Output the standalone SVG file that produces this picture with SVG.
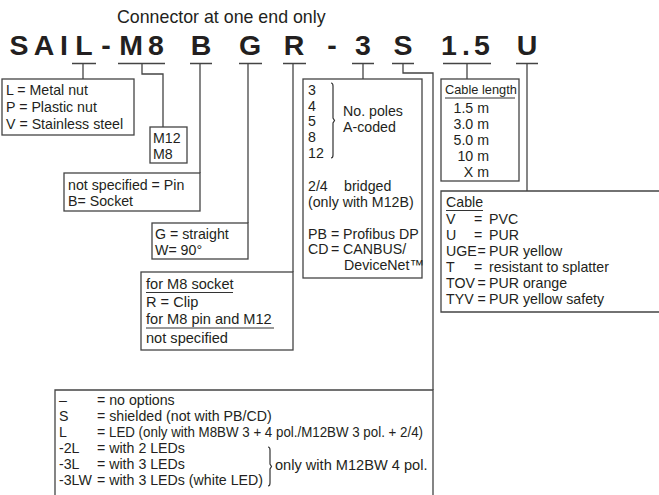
<svg xmlns="http://www.w3.org/2000/svg" width="659" height="495" viewBox="0 0 659 495">
<style>
text{font-family:"Liberation Sans",Arial,sans-serif;font-size:14.2px;fill:#231f20}
.code{font-size:28.5px;font-weight:bold;text-anchor:middle}
.title{font-size:17.8px}
.box{fill:none;stroke:#444;stroke-width:1.3}
.ln{fill:none;stroke:#444;stroke-width:1.3}
.ul{stroke:#333;stroke-width:1}
.end{text-anchor:end}
.br{fill:none;stroke:#333;stroke-width:1.2}
</style>
<rect width="659" height="495" fill="#fff"/>
<g id="title"><text class="title" x="117" y="23">Connector at one end only</text></g>
<g id="code">
<text class="code" x="19" y="55">S</text>
<text class="code" x="44" y="55">A</text>
<text class="code" x="64" y="55">I</text>
<text class="code" x="84" y="55">L</text>
<text class="code" x="106" y="55">-</text>
<text class="code" x="131" y="55">M</text>
<text class="code" x="156" y="55">8</text>
<text class="code" x="201" y="55">B</text>
<text class="code" x="250" y="55">G</text>
<text class="code" x="294" y="55">R</text>
<text class="code" x="332" y="55">-</text>
<text class="code" x="363" y="55">3</text>
<text class="code" x="403" y="55">S</text>
<text class="code" x="449" y="55">1</text>
<text class="code" x="466" y="55">.</text>
<text class="code" x="482" y="55">5</text>
<text class="code" x="527" y="55">U</text>
</g>
<g id="connectors" class="ln">
<path d="M72,63.5H96M118,63.5H165M190,63.5H212M239,63.5H262M283,63.5H306M352,63.5H374M392,63.5H414M443,63.5H491M516,63.5H538"/>
<path d="M83,63.5V79"/>
<path d="M142,63.5V74H163V127"/>
<path d="M200,63.5V173"/>
<path d="M248,63.5V223"/>
<path d="M293,63.5V272"/>
<path d="M363,63.5V79"/>
<path d="M403,63.5V73H433V390"/>
<path d="M467,63.5V79"/>
<path d="M527,63.5V191"/>
</g>
<g id="nut">
<rect class="box" x="2" y="79" width="132" height="56"/>
<text x="6" y="95">L = Metal nut</text>
<text x="6" y="112">P = Plastic nut</text>
<text x="6" y="129">V = Stainless steel</text>
</g>
<g id="size">
<rect class="box" x="150" y="127" width="37" height="36"/>
<text x="153" y="143">M12</text>
<text x="153" y="159">M8</text>
</g>
<g id="pin">
<rect class="box" x="64" y="173" width="136" height="38"/>
<text x="68" y="190">not specified = Pin</text>
<text x="68" y="206">B= Socket</text>
</g>
<g id="angle">
<rect class="box" x="152" y="223" width="96" height="36"/>
<text x="155" y="239">G = straight</text>
<text x="155" y="255">W= 90°</text>
</g>
<g id="clip">
<rect class="box" x="141" y="272" width="152" height="78"/>
<text x="146" y="289" style="font-size:14.6px">for M8 socket</text>
<line class="ul" x1="146" y1="292.5" x2="233" y2="292.5"/>
<text x="146" y="307" style="font-size:14.6px">R = Clip</text>
<text x="146" y="324" style="font-size:14.6px">for M8 pin and M12</text>
<line class="ul" x1="146" y1="328" x2="274" y2="328"/>
<text x="146" y="343" style="font-size:14.6px">not specified</text>
</g>
<g id="poles">
<rect class="box" x="303" y="79" width="119" height="199"/>
<text x="308" y="95">3</text>
<text x="308" y="111">4</text>
<text x="308" y="126">5</text>
<text x="308" y="142">8</text>
<text x="308" y="158">12</text>
<path class="br" d="M331,83q2,0 2,3v32l1.5,2.5l-1.5,2.5v32q0,3 -2,3"/>
<text x="343" y="116">No. poles</text>
<text x="343" y="132">A-coded</text>
<text x="308" y="191">2/4</text>
<text x="344" y="191">bridged</text>
<text x="308" y="207">(only with M12B)</text>
<text x="308" y="239">PB</text><text x="331" y="239">=</text><text x="343" y="239">Profibus DP</text>
<text x="308" y="254">CD</text><text x="331" y="254">=</text><text x="343" y="254">CANBUS/</text>
<text x="344" y="270">DeviceNet™</text>
</g>
<g id="length">
<rect class="box" x="441" y="79" width="78" height="102"/>
<text x="445" y="94" style="font-size:12.8px">Cable length</text>
<line class="ul" x1="445" y1="98" x2="515" y2="98"/>
<text class="end" x="489" y="113">1.5 m</text>
<text class="end" x="489" y="129">3.0 m</text>
<text class="end" x="489" y="145">5.0 m</text>
<text class="end" x="489" y="161">10 m</text>
<text class="end" x="489" y="177">X m</text>
</g>
<g id="cable">
<path class="box" d="M660,191H441V312H660"/>
<text x="446" y="207">Cable</text>
<line class="ul" x1="446" y1="210.5" x2="483" y2="210.5"/>
<text x="446" y="224">V</text><text x="474" y="224">=</text><text x="489" y="224">PVC</text>
<text x="446" y="240">U</text><text x="474" y="240">=</text><text x="489" y="240">PUR</text>
<text x="446" y="256">UGE</text><text x="477.5" y="256">=</text><text x="489" y="256">PUR yellow</text>
<text x="446" y="272">T</text><text x="474" y="272">=</text><text x="489" y="272">resistant to splatter</text>
<text x="446" y="288">TOV</text><text x="477.5" y="288">=</text><text x="489" y="288">PUR orange</text>
<text x="446" y="304">TYV</text><text x="477.5" y="304">=</text><text x="489" y="304">PUR yellow safety</text>
</g>
<g id="options">
<path class="box" d="M55,496V390H433V496"/>
<text x="59" y="405">–</text><text x="97" y="405">= no options</text>
<text x="59" y="421">S</text><text x="97" y="421">= shielded (not with PB/CD)</text>
<text x="59" y="437">L</text><text x="97" y="437">=</text><text x="109" y="437" textLength="314" lengthAdjust="spacingAndGlyphs">LED (only with M8BW 3 + 4 pol./M12BW 3 pol. + 2/4)</text>
<text x="59" y="453">-2L</text><text x="97" y="453">= with 2 LEDs</text>
<text x="59" y="469">-3L</text><text x="97" y="469">= with 3 LEDs</text>
<text x="59" y="485">-3LW</text><text x="97" y="485">= with 3 LEDs (white LED)</text>
<path class="br" d="M268,447q2,0 2,3v14l1.5,2.5l-1.5,2.5v14q0,3 -2,3"/>
<text x="275" y="470" style="font-size:14.6px">only with M12BW 4 pol.</text>
</g>
</svg>
